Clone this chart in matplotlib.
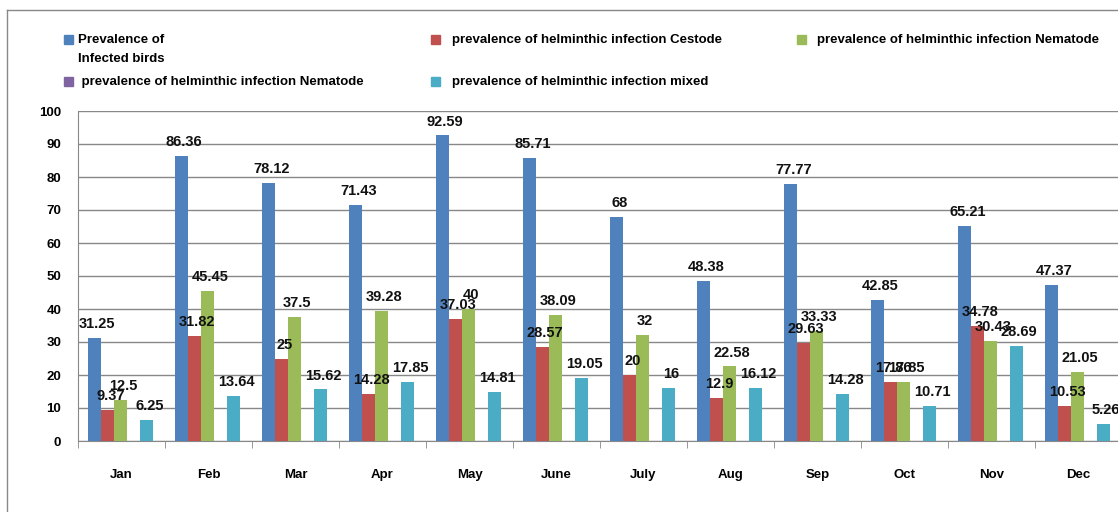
import numpy as np
import matplotlib
matplotlib.use("Agg")
import matplotlib.pyplot as plt
from matplotlib.patches import Rectangle
from matplotlib.lines import Line2D

months = ["Jan", "Feb", "Mar", "Apr", "May", "June", "July", "Aug", "Sep", "Oct", "Nov", "Dec"]

infected_birds = [31.25, 86.36, 78.12, 71.43, 92.59, 85.71, 68, 48.38, 77.77, 42.85, 65.21, 47.37]
cestode = [9.37, 31.82, 25, 14.28, 37.03, 28.57, 20, 12.9, 29.63, 17.86, 34.78, 10.53]
nematode = [12.5, 45.45, 37.5, 39.28, 40, 38.09, 32, 22.58, 33.33, 17.85, 30.43, 21.05]
nematode2 = [0, 0, 0, 0, 0, 0, 0, 0, 0, 0, 0, 0]
mixed = [6.25, 13.64, 15.62, 17.85, 14.81, 19.05, 16, 16.12, 14.28, 10.71, 28.69, 5.26]

names = ["Prevalence of\nInfected birds",
         "prevalence of helminthic infection Cestode",
         "prevalence of helminthic infection Nematode",
         " prevalence of helminthic infection Nematode",
         "prevalence of helminthic infection mixed"]
colors = ["#4F81BD", "#C0504D", "#9BBB59", "#8064A2", "#4BACC6"]
series = [infected_birds, cestode, nematode, nematode2, mixed]

plt.rcParams['font.family'] = ['Liberation Sans', 'DejaVu Sans']
plt.rcParams['font.weight'] = 'bold'

W, H = 1118, 512
fig = plt.figure(figsize=(W / 100, H / 100), dpi=100)

# outer frame of the chart area
fig.add_artist(Line2D([7 / W, 7 / W], [0, 1 - 10 / H], color="#888888", lw=1.0))
fig.add_artist(Line2D([7 / W, 1], [1 - 10 / H, 1 - 10 / H], color="#888888", lw=1.0))

ax = fig.add_axes([78 / W, 71 / H, 1044 / W, 330 / H])

x = np.arange(len(months))
bw = 13 / 87
for i, (vals, col) in enumerate(zip(series, colors)):
    pos = x - 0.5 + 10 / 87 + bw * (i + 0.5)
    ax.bar(pos, vals, width=bw, color=col, zorder=3)
    if i == 3:
        continue
    for px, v in zip(pos, vals):
        ax.annotate(f"{v:g}", (px, v), xytext=(2, 5), textcoords="offset points",
                    ha="center", va="bottom", fontsize=10.5, fontweight="bold",
                    color="#111111", zorder=10)

ax.set_xlim(-0.5, len(months) - 0.5)
ax.set_ylim(0, 100)
ax.set_yticks(range(0, 101, 10))
ax.yaxis.grid(True, color="#888888", lw=1.0, zorder=0)
ax.set_xticks(x)
ax.set_xticklabels(months, fontsize=9.5, fontweight="bold")
ax.set_xticks(np.arange(-0.5, len(months), 1), minor=True)
ax.tick_params(axis="x", which="major", length=0, pad=20)
ax.tick_params(axis="x", which="minor", length=5, color="#888888")
ax.tick_params(axis="y", length=0, labelsize=9.5, pad=12)
for s in ["top", "right"]:
    ax.spines[s].set_visible(False)
ax.spines["left"].set_color("#888888")
ax.spines["bottom"].set_color("#888888")

# legend, laid out like the original
leg_pos = [(64, 40, 14), (431, 40, 21), (797, 40, 20), (64, 82, 14), (431, 82, 21)]
for (lx, ly, off), name, col in zip(leg_pos, names, colors):
    fig.add_artist(Rectangle((lx / W, 1 - (ly + 4) / H), 9 / W, 9 / H, color=col))
    fig.text((lx + off) / W, 1 - (ly - 6) / H, name, fontsize=9.5, fontweight="bold",
             va="top", ha="left", linespacing=1.75)

fig.savefig("out.png", dpi=100)
